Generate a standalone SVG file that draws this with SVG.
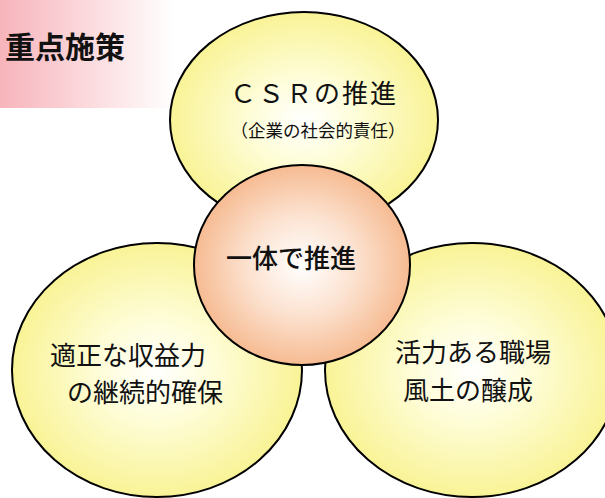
<svg xmlns="http://www.w3.org/2000/svg" width="605" height="498" viewBox="0 0 605 498">
<defs>
<linearGradient id="gTitle" x1="0" y1="0" x2="1" y2="0">
<stop offset="0" stop-color="#f7b4bb"/>
<stop offset="1" stop-color="#ffffff"/>
</linearGradient>
<radialGradient id="gY" cx="0.5" cy="0.5" r="0.5">
<stop offset="0" stop-color="#ffffff"/>
<stop offset="0.4" stop-color="#fefdd8"/>
<stop offset="1" stop-color="#f9f396"/>
</radialGradient>
<radialGradient id="gO" cx="0.5" cy="0.5" r="0.5">
<stop offset="0" stop-color="#ffffff"/>
<stop offset="0.5" stop-color="#fce2d0"/>
<stop offset="1" stop-color="#f6bb92"/>
</radialGradient>
</defs>
<style>
.yl{fill:url(#gY);stroke:#000;stroke-width:2}
.or{fill:url(#gO);stroke:#000;stroke-width:2}
text{font-family:"Noto Sans CJK JP","Liberation Sans",sans-serif;fill:#111}
.big{font-size:26px}
.sm{font-size:17.5px}
.ttl{font-size:30px;font-weight:bold}
</style>
<rect x="0" y="0" width="175" height="108" fill="url(#gTitle)"/>
<g id="title"><text class="ttl" x="5" y="58">重点施策</text></g>
<g id="csr">
<ellipse class="yl" cx="304" cy="120" rx="134" ry="108"/>
<text class="big" x="314" y="103" text-anchor="middle" letter-spacing="2">ＣＳＲの推進</text>
<text class="sm" x="318" y="137" text-anchor="middle">（企業の社会的責任）</text>
</g>
<g id="profit">
<ellipse class="yl" cx="157" cy="370" rx="145" ry="127"/>
<text class="big" x="50" y="365">適正な収益力</text>
<text class="big" x="67" y="402">の継続的確保</text>
</g>
<g id="workplace">
<ellipse class="yl" cx="472" cy="370" rx="147" ry="127"/>
<text class="big" x="395" y="362">活力ある職場</text>
<text class="big" x="403" y="400">風土の醸成</text>
</g>
<g id="core">
<ellipse class="or" cx="302" cy="265" rx="108" ry="100"/>
<text class="big" x="291" y="268" text-anchor="middle" font-weight="500">一体で推進</text>
</g>
<g id="connectors"></g>
</svg>
